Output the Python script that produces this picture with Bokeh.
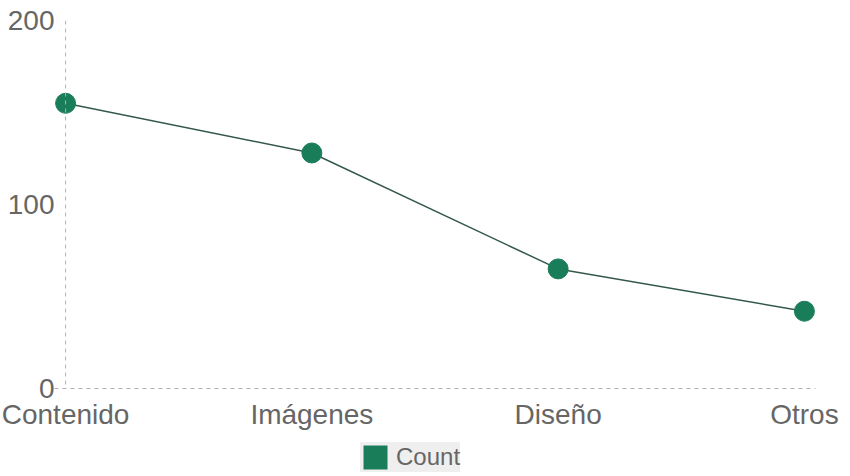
from bokeh.plotting import figure
from bokeh.layouts import column
from bokeh.models import Legend, LegendItem, FixedTicker, ColumnDataSource, Span, Range1d
from bokeh.embed import file_html
from bokeh.resources import INLINE

categories = ["Contenido", "Imágenes", "Diseño", "Otros"]
counts = [155, 128, 65, 42]
y_ticks = [0, 100, 200]

xs = list(range(len(categories)))
src = ColumnDataSource(dict(x=xs, y=counts))

FONT = "Liberation Sans"
GREEN = "#1a7d5a"

p = figure(width=840, height=442, x_range=(-0.045, len(categories) - 1 + 0.045),
           y_range=(0, 200), output_backend="svg", toolbar_location=None,
           min_border_left=54, min_border_right=25, min_border_top=20,
           min_border_bottom=54)

p.line("x", "y", source=src, line_color="#34594c", line_width=1.5)
p.scatter("x", "y", source=src, size=20, fill_color=GREEN, line_color=GREEN)

# dashed vertical baseline at the first category
p.add_layout(Span(location=0, dimension="height", line_color="#b0b0b0",
                  line_dash="4 4", line_width=1))

for ax in (p.xaxis[0], p.yaxis[0]):
    ax.axis_line_color = "#b0b0b0"
    ax.axis_line_dash = "4 4"
    ax.axis_line_width = 1
    ax.major_tick_line_color = None
    ax.minor_tick_line_color = None
    ax.major_tick_out = 0
    ax.major_tick_in = 0
    ax.minor_tick_out = 0
    ax.minor_tick_in = 0
    ax.major_label_text_font = FONT
    ax.major_label_text_font_size = "28px"
    ax.major_label_text_color = "#666666"

p.yaxis.axis_line_color = None
p.xaxis.ticker = FixedTicker(ticks=xs)
p.xaxis.major_label_overrides = {i: c for i, c in enumerate(categories)}
p.xaxis.major_label_standoff = 10
p.yaxis.ticker = FixedTicker(ticks=y_ticks)
p.yaxis.major_label_standoff = 0

p.xgrid.grid_line_color = None
p.ygrid.grid_line_color = None
p.outline_line_color = None

# legend strip below the chart
q = figure(width=840, height=30, x_range=Range1d(0, 1), y_range=Range1d(0, 1),
           output_backend="svg", toolbar_location=None,
           x_axis_type=None, y_axis_type=None, min_border=0)
q.outline_line_color = None
q.xgrid.grid_line_color = None
q.ygrid.grid_line_color = None
swatch = q.vbar(x="x", top="y", source=src, width=0.2, fill_color=GREEN,
                line_color=None, visible=False)

legend = Legend(items=[LegendItem(label="Count", renderers=[swatch])],
                orientation="horizontal", location=(306, 0),
                label_text_font=FONT, label_text_font_size="24px",
                label_text_color="#666666",
                background_fill_color="#efefef", background_fill_alpha=1.0,
                border_line_color=None, glyph_width=30, glyph_height=30,
                padding=0, margin=0, label_standoff=6, spacing=0)
q.add_layout(legend, "center")

layout = column(p, q, spacing=0)
open("out.html", "w").write(file_html(layout, INLINE))
